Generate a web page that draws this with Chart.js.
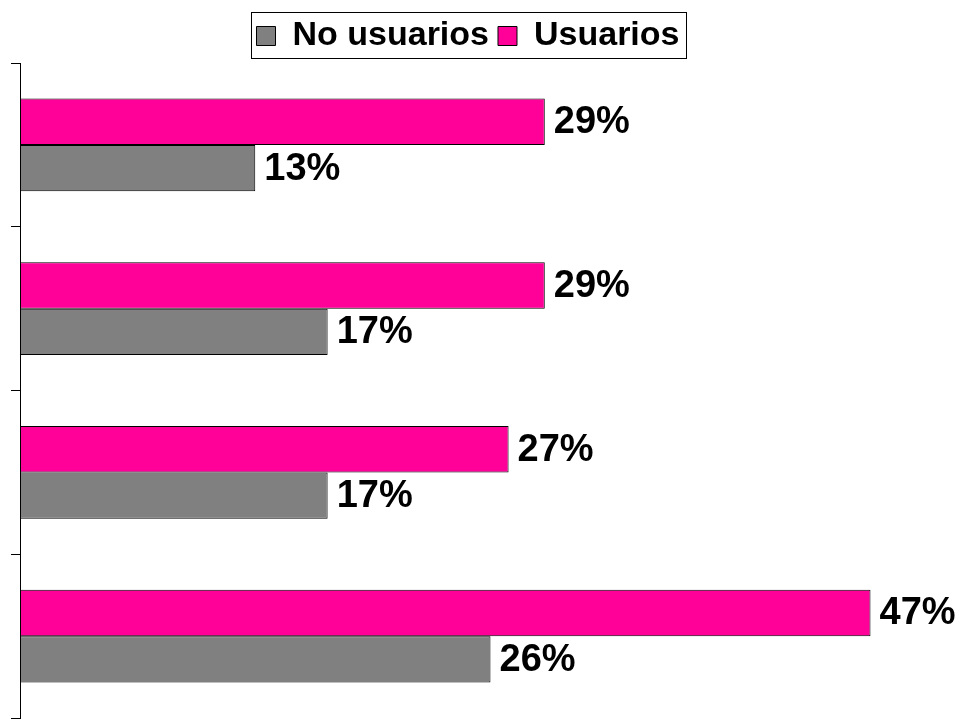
<!DOCTYPE html>
<html>
<head>
<meta charset="utf-8">
<script src="https://cdn.jsdelivr.net/npm/chart.js@4"></script>
<style>
	html, body { margin: 0; padding: 0; background: #fff; }
	#wrap { width: 964px; height: 720px; }
</style>
</head>
<body>
<div id="wrap"><canvas id="barChart"></canvas></div>
<script>
let categories = ["1", "2", "3", "4"];
let usuarios = [29, 29, 27, 47];
let noUsuarios = [13, 17, 17, 26];
let xMax = 52;

let dataUsuarios = {
	label: "Usuarios",
	data: usuarios,
	backgroundColor: "#FF0099",
	borderColor: "#000000",
	borderWidth: 1,
	borderSkipped: false,
};

let dataNoUsuarios = {
	label: "No usuarios",
	data: noUsuarios,
	backgroundColor: "#808080",
	borderColor: "#000000",
	borderWidth: 1,
	borderSkipped: false,
};

// shift the legend a little to the left and put a frame round it
const legendFrame = {
	id: "legendFrame",
	afterLayout(chart) {
		chart.legend.left -= 18;
		chart.legend.right -= 18;
	},
	afterDraw(chart) {
		const boxes = chart.legend.legendHitBoxes;
		if (!boxes || !boxes.length) return;
		let left = Math.min(...boxes.map((b) => b.left));
		let right = Math.max(...boxes.map((b) => b.left + b.width));
		let top = boxes[0].top;
		let ctx = chart.ctx;
		ctx.save();
		ctx.strokeStyle = "#000";
		ctx.lineWidth = 1;
		ctx.strokeRect(Math.round(left - 6) + 0.5, Math.round(top - 7) + 0.5, Math.round(right - left + 12), 46);
		ctx.restore();
	},
};

// value labels at the end of each bar
const valueLabels = {
	id: "valueLabels",
	afterDatasetsDraw(chart) {
		let ctx = chart.ctx;
		ctx.save();
		ctx.font = "bold 38px 'Liberation Sans', Arial, sans-serif";
		ctx.fillStyle = "#000";
		ctx.textAlign = "left";
		ctx.textBaseline = "middle";
		chart.data.datasets.forEach((ds, i) => {
			chart.getDatasetMeta(i).data.forEach((bar, j) => {
				ctx.fillText(ds.data[j] + "%", bar.x + 9, bar.y + 1);
			});
		});
		ctx.restore();
	},
};

let chartOptions = {
	responsive: true,
	maintainAspectRatio: false,
	animation: false,
	indexAxis: "y",
	layout: {
		padding: { left: 11, right: 3, top: 10, bottom: 2 },
	},
	datasets: {
		bar: {
			categoryPercentage: 0.567,
			barPercentage: 1,
		},
	},
	scales: {
		x: {
			display: false,
			min: 0,
			max: xMax,
		},
		y: {
			ticks: { display: false },
			grid: {
				drawOnChartArea: false,
				drawTicks: true,
				tickLength: 9,
				color: "#000",
			},
			border: { display: true, color: "#000", width: 1 },
		},
	},
	plugins: {
		legend: {
			display: true,
			position: "top",
			reverse: true,
			labels: {
				boxWidth: 19,
				boxHeight: 19,
				padding: 9,
				color: "#000",
				font: { family: "'Liberation Sans', Arial, sans-serif", size: 34, weight: "bold" },
			},
		},
		tooltip: { enabled: false },
	},
};

let barData = {
	labels: categories,
	datasets: [dataUsuarios, dataNoUsuarios],
};

let chart = new Chart(document.getElementById("barChart"), {
	type: "bar",
	data: barData,
	options: chartOptions,
	plugins: [legendFrame, valueLabels],
});
</script>
</body>
</html>
